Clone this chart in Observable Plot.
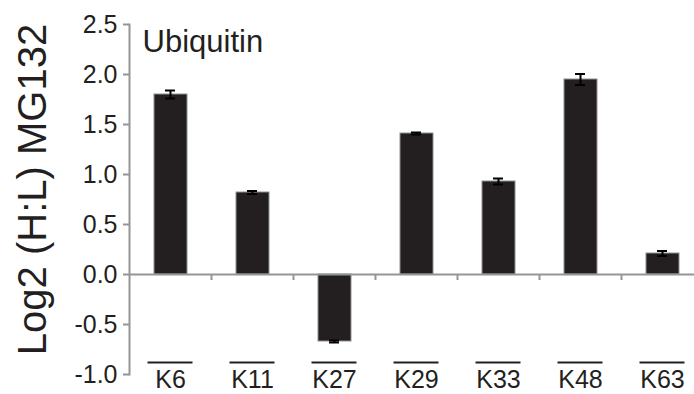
<!DOCTYPE html>
<html>
<head>
<meta charset="utf-8">
<script src="https://cdn.jsdelivr.net/npm/d3@7"></script>
<script src="https://cdn.jsdelivr.net/npm/@observablehq/plot@0.6"></script>
<style>
  html, body { margin: 0; padding: 0; background: #fff; }
  svg { font-family: "Liberation Sans", Arial, Helvetica, sans-serif; }
</style>
</head>
<body>
<div id="chart"></div>
<script>
const categories = ["K6", "K11", "K27", "K29", "K33", "K48", "K63"];
const values = [1.80, 0.82, -0.67, 1.41, 0.93, 1.95, 0.21];
const errors = [0.04, 0.015, 0.01, 0.01, 0.03, 0.055, 0.025];
const yTicks = [-1.0, -0.5, 0.0, 0.5, 1.0, 1.5, 2.0, 2.5];
const title = "Ubiquitin";
const yLabel = "Log2 (H:L) MG132";

const data = categories.map((c, i) => ({cat: c, value: values[i], err: errors[i]}));

const ink = "#231f20";
const axisGray = "#939598";

const chart = Plot.plot({
  width: 694,
  height: 394,
  marginLeft: 129,
  marginRight: 0,
  marginTop: 24,
  marginBottom: 20,
  style: {fontFamily: "'Liberation Sans', Arial, Helvetica, sans-serif", background: "#fff"},
  x: {type: "band", domain: categories, range: [129, 703], padding: 0, axis: null},
  y: {domain: [-1, 2.5], axis: null},
  marks: [
    Plot.barY(data, {x: "cat", y: "value", fill: ink, stroke: "#8f8f8f", strokeWidth: 1, insetLeft: 25, insetRight: 24}),
    Plot.ruleX(data, {x: "cat", y1: d => d.value - d.err, y2: d => d.value + d.err, stroke: "#000", strokeWidth: 2}),
    Plot.tickY(data, {x: "cat", y: d => d.value + d.err, stroke: "#000", strokeWidth: 2, insetLeft: 36, insetRight: 36}),
    Plot.tickY(data, {x: "cat", y: d => d.value - d.err, stroke: "#000", strokeWidth: 2, insetLeft: 36, insetRight: 36}),
    Plot.ruleY([0], {stroke: axisGray, strokeWidth: 2}),
    Plot.ruleX(categories.slice(1), {x: d => d, dx: -41, y1: 0, y2: 0, stroke: axisGray, strokeWidth: 2, insetBottom: -6}),
    Plot.frame({anchor: "left", stroke: axisGray, strokeWidth: 2}),
    Plot.axisY({ticks: yTicks, tickSize: 6, tickPadding: 6, tickFormat: d => d.toFixed(1), stroke: axisGray, strokeWidth: 2, fill: ink, fontSize: 25, label: null}),
    Plot.tickY(categories, {x: d => d, y: -1, dy: -12, stroke: ink, strokeWidth: 2, insetLeft: 18.5, insetRight: 18.5}),
    Plot.text(categories, {x: d => d, y: -1, dy: 5, lineAnchor: "middle", fontSize: 25, fill: ink}),
    Plot.text([title], {frameAnchor: "top-left", textAnchor: "start", lineAnchor: "top", dx: 13, dy: 5, fontSize: 31, fill: ink}),
    Plot.text([yLabel], {frameAnchor: "left", textAnchor: "middle", lineAnchor: "bottom", rotate: -90, dx: -84, dy: -10, fontSize: 40, fill: ink})
  ]
});
document.getElementById("chart").appendChild(chart);
</script>
</body>
</html>
